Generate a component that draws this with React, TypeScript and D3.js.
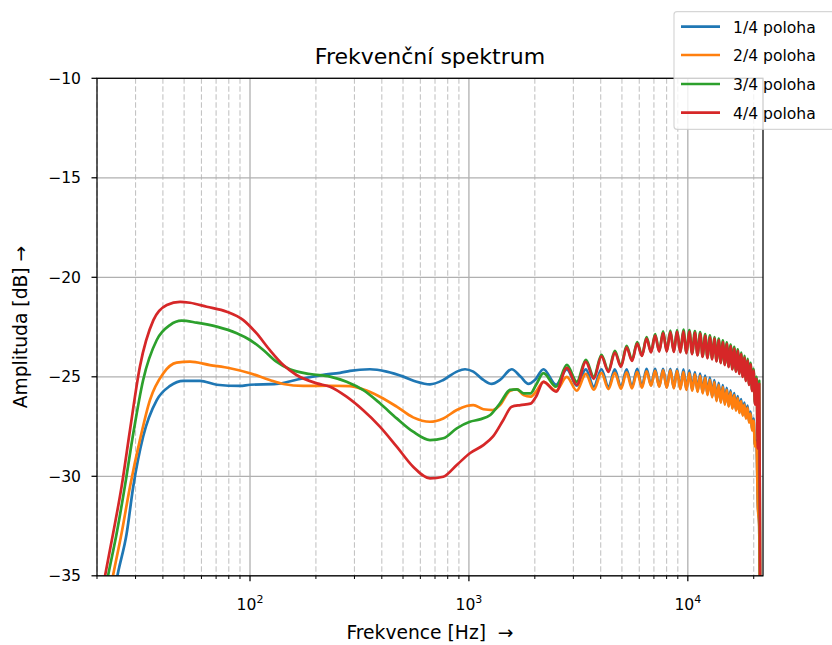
import React from "react";
import * as d3 from "d3";

// ---------- data ----------
const seriesNames = ["1/4 poloha", "2/4 poloha", "3/4 poloha", "4/4 poloha"];
const seriesColors = ["#1f77b4", "#ff7f0e", "#2ca02c", "#d62728"];

const yTicks = [-35, -30, -25, -20, -15, -10];
const xMajorTicks = [100, 1000, 10000];
const xMinorTicks = [20, 30, 40, 50, 60, 70, 80, 90, 200, 300, 400, 500, 600, 700, 800, 900,
  2000, 3000, 4000, 5000, 6000, 7000, 8000, 9000, 20000];
const xTickExp = ["2", "3", "4"];

// low / mid frequency part: [Hz, dB]
const blueLow = [[20, -41], [25, -34.8], [27.3, -32.9], [29.3, -30.5], [32.5, -28.0], [37.5, -26.17], [43.1, -25.46],
  [49.6, -25.2], [59.1, -25.2], [70.5, -25.4], [90, -25.46], [100, -25.4], [132, -25.36], [163, -25.15], [216, -24.9],
  [258, -24.8], [286, -24.7], [353, -24.62], [421, -24.74], [502, -24.99], [577, -25.25], [664, -25.38], [764, -25.16],
  [880, -24.74], [960, -24.62], [1047, -24.74], [1164, -25.16], [1271, -25.36], [1387, -25.16], [1568, -24.62],
  [1720, -24.99], [1870, -25.36], [2004, -25.16]];
const orangeLow = [[20, -39.6], [23.7, -34.96], [25.9, -32.86], [28.3, -30.52], [31.4, -28.18], [34.9, -26.17],
  [40.2, -24.82], [46.2, -24.29], [53.2, -24.24], [65.6, -24.41], [81, -24.57], [100, -24.82], [123, -25.16],
  [142, -25.36], [175, -25.46], [232, -25.45], [286, -25.47], [328, -25.63], [392, -26.0], [468, -26.5], [556, -27.04],
  [664, -27.26], [764, -27.09], [880, -26.67], [976, -26.47], [1047, -26.42], [1164, -26.63], [1286, -26.67],
  [1387, -26.42], [1542, -25.7], [1658, -25.63], [1778, -25.92], [1910, -26.0], [2025, -25.75]];
const greenLow = [[20, -38.1], [22.5, -34.96], [24.6, -32.86], [26.8, -30.52], [29.3, -27.84], [32.5, -25.16],
  [37.5, -23.15], [43.1, -22.4], [48.7, -22.18], [57, -22.28], [70.5, -22.48], [87, -22.81], [100, -23.15],
  [115, -23.65], [132, -24.24], [152, -24.62], [188, -24.86], [232, -24.99], [276, -25.25], [328, -25.66],
  [392, -26.33], [468, -27.09], [556, -27.76], [664, -28.18], [764, -28.09], [880, -27.59], [1010, -27.26],
  [1122, -27.14], [1252, -26.92], [1387, -26.33], [1542, -25.66], [1658, -25.63], [1778, -25.83], [1910, -25.83],
  [2025, -25.41]];
const redLow = [[20, -37.3], [21.8, -34.96], [23.7, -32.86], [25.9, -30.52], [28.3, -27.67], [31.4, -24.49],
  [36.2, -22.15], [41.7, -21.39], [47.9, -21.23], [53.2, -21.28], [63.4, -21.48], [78.3, -21.73], [93.2, -22.15],
  [107, -22.81], [123, -23.65], [142, -24.41], [163, -24.91], [202, -25.33], [232, -25.5], [276, -26.0],
  [328, -26.67], [392, -27.5], [468, -28.51], [556, -29.52], [664, -30.1], [764, -30.02], [880, -29.43],
  [1010, -28.84], [1164, -28.43], [1286, -28.01], [1436, -27.17], [1568, -26.5], [1720, -26.42], [1910, -26.35],
  [2025, -26.0]];

// high frequency ripple: extrema frequencies (peak, trough, peak, ...) shared by all series
const rippleFreqs = [2190, 2500, 2800, 3110, 3420, 3720, 4030, 4340, 4640, 4950, 5250, 5560, 5870, 6170, 6480,
  6790, 7090, 7400, 7710, 8010, 8320, 8630, 8930, 9240, 9550, 9850, 10160, 10470, 10770, 11080, 11380, 11690,
  12000, 12300, 12610, 12920, 13220, 13530, 13840, 14140, 14450, 14760, 15060, 15370, 15680, 15980, 16290, 16600,
  16900, 17210, 17510, 17820, 18130, 18430, 18740, 19050, 19350, 19660, 19970, 20270, 20580, 20890, 21190, 21500,
  22050];
const blueRipple = [-24.62, -25.4, -24.63, -25.45, -24.63, -25.5, -24.62, -25.52, -24.62, -25.52, -24.62, -25.5,
  -24.6, -25.48, -24.6, -25.42, -24.6, -25.47, -24.6, -25.52, -24.6, -25.55, -24.61, -25.58, -24.63, -25.62,
  -24.68, -25.66, -24.76, -25.72, -24.84, -25.79, -24.94, -25.88, -25.04, -25.99, -25.16, -26.18, -25.3, -26.26,
  -25.42, -26.36, -25.55, -26.46, -25.68, -26.56, -25.82, -26.66, -25.97, -26.78, -26.12, -26.91, -26.3, -27.06,
  -26.45, -27.26, -26.75, -27.66, -27.1, -28.45, -28.2, -31.4, -32.4, -40, -45];
const orangeRipple = [-25.25, -25.7, -25.0, -25.7, -24.85, -25.65, -24.8, -25.62, -24.8, -25.6, -24.78, -25.58,
  -24.75, -25.55, -24.72, -25.45, -24.7, -25.5, -24.68, -25.55, -24.68, -25.58, -24.7, -25.62, -24.75, -25.66,
  -24.8, -25.7, -24.88, -25.76, -24.95, -25.83, -25.05, -25.92, -25.15, -26.03, -25.27, -26.22, -25.4, -26.3,
  -25.52, -26.4, -25.65, -26.5, -25.78, -26.6, -25.92, -26.7, -26.07, -26.82, -26.22, -26.95, -26.4, -27.1,
  -26.55, -27.3, -26.85, -27.7, -27.2, -28.5, -28.3, -31.5, -32.5, -40, -45];
const greenRipple = [-24.82, -25.5, -24.4, -25.25, -24.15, -25.0, -23.9, -24.7, -23.7, -24.45, -23.45, -24.15,
  -23.25, -23.92, -23.0, -23.75, -22.85, -23.7, -22.72, -23.7, -22.68, -23.72, -22.65, -23.75, -22.63, -23.78,
  -22.65, -23.82, -22.7, -23.9, -22.75, -23.97, -22.85, -24.04, -22.92, -24.1, -23.0, -24.2, -23.08, -24.28,
  -23.17, -24.38, -23.27, -24.48, -23.38, -24.6, -23.5, -24.72, -23.62, -24.83, -23.78, -24.98, -23.95, -25.18,
  -24.1, -25.38, -24.3, -25.68, -24.6, -26.3, -25.0, -28.3, -25.2, -40, -45];
const redRipple = [-25.25, -25.75, -24.55, -25.4, -24.25, -25.1, -23.97, -24.75, -23.78, -24.5, -23.52, -24.2,
  -23.33, -23.95, -23.08, -23.78, -22.93, -23.73, -22.8, -23.73, -22.76, -23.75, -22.73, -23.78, -22.71, -23.82,
  -22.73, -23.86, -22.78, -23.93, -22.83, -24.0, -22.93, -24.07, -23.0, -24.13, -23.08, -24.23, -23.16, -24.31,
  -23.25, -24.41, -23.35, -24.51, -23.46, -24.63, -23.58, -24.75, -23.7, -24.86, -23.86, -25.01, -24.03, -25.21,
  -24.18, -25.41, -24.38, -25.72, -24.68, -26.4, -25.1, -28.6, -25.35, -40, -45];

const lowParts = [blueLow, orangeLow, greenLow, redLow];
const rippleParts = [blueRipple, orangeRipple, greenRipple, redRipple];

// ---------- layout ----------
const W = 832, H = 645;
const L = 97, R = 763, T = 78.3, B = 575.8;
const FONT = "'DejaVu Sans', sans-serif";

export default function App() {
  const x = d3.scaleLog().domain([20, 22050]).range([L, R]);
  const y = d3.scaleLinear().domain([-35, -10]).range([B, T]);
  const line = d3.line<number[]>().x(d => x(d[0])).y(d => y(d[1])).curve(d3.curveMonotoneX);

  const series = lowParts.map((low, i) => low.concat(rippleFreqs.map((f, k) => [f, rippleParts[i][k]])));
  const legendY = [26.7, 55, 84, 112.7];

  return (
    <div style={{ position: "fixed", left: 0, top: 0, width: W, height: H, overflow: "hidden", background: "#fff" }}>
      <svg width={W} height={H} style={{ display: "block" }} fontFamily={FONT}>
        <defs>
          <clipPath id="plotclip">
            <rect x={L} y={T} width={R - L} height={B - T} />
          </clipPath>
        </defs>
        <rect x={0} y={0} width={W} height={H} fill="#fff" />
        {/* minor x grid */}
        {xMinorTicks.map(t => (
          <line key={"mg" + t} x1={x(t)} x2={x(t)} y1={T} y2={B} stroke="#c4c4c4" strokeWidth={1.1} strokeDasharray="5.5,2.5" />
        ))}
        {/* major grids */}
        {xMajorTicks.map(t => (
          <line key={"Mg" + t} x1={x(t)} x2={x(t)} y1={T} y2={B} stroke="#b0b0b0" strokeWidth={1.3} />
        ))}
        {yTicks.map(t => (
          <line key={"yg" + t} x1={L} x2={R} y1={y(t)} y2={y(t)} stroke="#b0b0b0" strokeWidth={1.3} />
        ))}
        {/* series */}
        <g clipPath="url(#plotclip)">
          {series.map((s, i) => (
            <path key={i} d={line(s) || ""} fill="none" stroke={seriesColors[i]} strokeWidth={2.7} strokeLinejoin="round" strokeLinecap="square" />
          ))}
        </g>
        {/* spines */}
        <rect x={L} y={T} width={R - L} height={B - T} fill="none" stroke="#000" strokeWidth={1.25} />
        {/* y ticks */}
        {yTicks.map(t => (
          <g key={"yt" + t}>
            <line x1={L - 5.5} x2={L} y1={y(t)} y2={y(t)} stroke="#000" strokeWidth={1.25} />
            <text x={81} y={y(t) + 5.6} textAnchor="end" fontSize={15.6} fill="#000">{"\u2212" + Math.abs(t)}</text>
          </g>
        ))}
        {/* x ticks */}
        {xMinorTicks.map(t => (
          <line key={"xm" + t} x1={x(t)} x2={x(t)} y1={B} y2={B + 3.2} stroke="#000" strokeWidth={1} />
        ))}
        {xMajorTicks.map((t, i) => (
          <g key={"xt" + t}>
            <line x1={x(t)} x2={x(t)} y1={B} y2={B + 5.5} stroke="#000" strokeWidth={1.25} />
            <text x={x(t)} y={610} textAnchor="middle" fontSize={15.6} fill="#000">
              <tspan>10</tspan>
              <tspan dy={-7.5} fontSize={11}>{xTickExp[i]}</tspan>
            </text>
          </g>
        ))}
        {/* labels */}
        <text x={(L + R) / 2} y={64} textAnchor="middle" fontSize={22} fill="#000">Frekvenční spektrum</text>
        <text x={(L + R) / 2} y={638.5} textAnchor="middle" fontSize={18.7} fill="#000" style={{ whiteSpace: "pre" }}>{"Frekvence [Hz]  →"}</text>
        <text transform={`translate(27,${(T + B) / 2}) rotate(-90)`} textAnchor="middle" fontSize={18.7} fill="#000">Amplituda [dB] →</text>
        {/* legend */}
        <rect x={674} y={11.7} width={200} height={117.6} rx={3} fill="#fff" fillOpacity={0.8} stroke="#cccccc" strokeOpacity={0.8} strokeWidth={1.2} />
        {seriesNames.map((n, i) => (
          <g key={n}>
            <line x1={681} x2={720} y1={legendY[i]} y2={legendY[i]} stroke={seriesColors[i]} strokeWidth={2.7} />
            <text x={733} y={legendY[i] + 5.8} fontSize={15.6} fill="#000">{n}</text>
          </g>
        ))}
      </svg>
    </div>
  );
}
